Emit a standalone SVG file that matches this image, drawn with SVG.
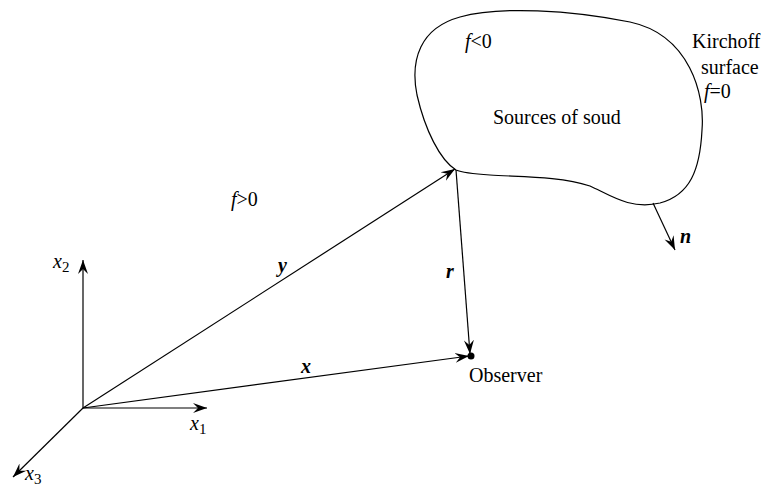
<svg xmlns="http://www.w3.org/2000/svg" width="771" height="486" viewBox="0 0 771 486">
<style>
text{font-family:"Liberation Serif","Times New Roman",serif;font-size:20px;fill:#000}
.it{font-style:italic}
.bi{font-style:italic;font-weight:bold}
.sub{font-style:normal;font-size:15px}
.ln{stroke:#000;stroke-width:1.2;fill:none}
</style>
<defs>
<marker id="ah" markerWidth="16" markerHeight="12" viewBox="-14 -6 16 12" refX="0" refY="0" orient="auto" markerUnits="userSpaceOnUse">
<path d="M0,0 L-14,-5 L-9,0 L-14,5 Z" fill="#000"/>
</marker>
</defs>
<g id="surface">
<path class="ln" d="M456,170 C440,160 425,130 417,95 C410,60 420,28 460,17 C500,6 570,10 630,22 C690,35 705,95 702,130 C700,170 690,195 660,203 C630,210 610,195 590,186 C560,176 520,177 490,175 C475,174 463,173 456,170 Z"/>
<text x="465" y="48" class="it">f<tspan font-style="normal">&lt;0</tspan></text>
<text x="493" y="124">Sources of soud</text>
<text x="692" y="48">Kirchoff</text>
<text x="701" y="74">surface</text>
<text x="704" y="98" class="it">f<tspan font-style="normal">=0</tspan></text>
</g>
<g id="observer">
<circle cx="471" cy="356" r="3.5" fill="#000"/>
<text x="469" y="382">Observer</text>
</g>
<g id="axes">
<line class="ln" x1="83" y1="408" x2="207" y2="408" marker-end="url(#ah)"/>
<line class="ln" x1="83" y1="408" x2="83" y2="260" marker-end="url(#ah)"/>
<line class="ln" x1="83" y1="408" x2="13" y2="477" marker-end="url(#ah)"/>
<text x="190" y="430" class="it">x<tspan class="sub" dy="4">1</tspan></text>
<text x="53" y="268" class="it">x<tspan class="sub" dy="4">2</tspan></text>
<text x="25" y="480" class="it">x<tspan class="sub" dy="4">3</tspan></text>
</g>
<g id="connectors">
<line class="ln" x1="83" y1="408" x2="455" y2="169" marker-end="url(#ah)"/>
<line class="ln" x1="83" y1="408" x2="469" y2="356" marker-end="url(#ah)"/>
<line class="ln" x1="456" y1="170" x2="470" y2="354" marker-end="url(#ah)"/>
<line class="ln" x1="653" y1="203" x2="675" y2="250" marker-end="url(#ah)"/>
</g>
<g id="labels">
<text x="231" y="206" class="it">f<tspan font-style="normal">&gt;0</tspan></text>
<text x="278" y="272" class="bi">y</text>
<text x="446" y="278" class="bi">r</text>
<text x="301" y="373" class="bi">x</text>
<text x="680" y="243" class="bi">n</text>
</g>
</svg>
